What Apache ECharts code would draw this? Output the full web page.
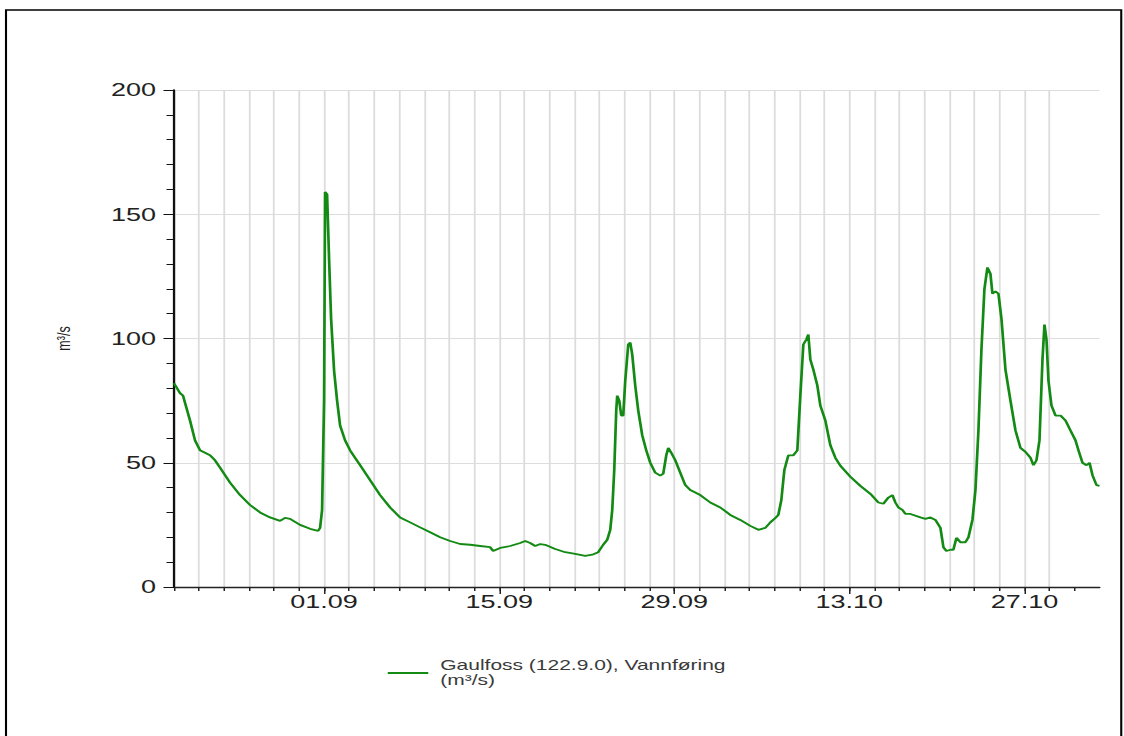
<!DOCTYPE html>
<html>
<head>
<meta charset="utf-8">
<script src="https://cdn.jsdelivr.net/npm/echarts@6/dist/echarts.min.js"></script>
<style>
  html, body { margin: 0; padding: 0; background: #fff; overflow: hidden; }
  #main { width: 749.333px; height: 736px; transform: scale(1.5, 1); transform-origin: 0 0; }
</style>
</head>
<body>
<div id="main"></div>
<script>
// ---- data (day offsets from 20.08, flow in m3/s) ----
const startDateUTC = Date.UTC(2023, 7, 20);
const dayOffset = [
  0, 0.48, 0.72, 1.28, 1.68, 2.08, 2.48, 2.88, 3.28, 3.68, 4.48, 5.28, 6.08, 6.88, 7.68, 8.48, 8.88, 9.28, 10.08, 10.88,
  11.52, 11.68, 11.84, 12.0, 12.08, 12.24, 12.4, 12.56, 12.8, 13.04, 13.28, 13.68, 14.08, 14.48, 14.88, 15.68, 16.48, 17.28, 18.08, 18.88,
  19.68, 20.48, 21.28, 22.08, 22.88, 23.68, 24.48, 25.28, 25.52, 26.08, 26.88, 27.68, 28.08, 28.48, 28.88, 29.28, 29.68, 30.48, 31.28, 32.08,
  32.88, 33.44, 33.92, 34.32, 34.64, 34.88, 35.04, 35.2, 35.36, 35.44, 35.6, 35.76, 35.92, 36.08, 36.32, 36.48, 36.64, 36.88, 37.12, 37.44,
  37.76, 38.08, 38.48, 38.88, 39.12, 39.36, 39.52, 39.76, 40.08, 40.48, 40.88, 41.28, 42.08, 42.88, 43.68, 44.48, 45.28, 46.08, 46.72, 47.28,
  47.68, 48.08, 48.32, 48.56, 48.8, 49.12, 49.52, 49.84, 50.08, 50.32, 50.56, 50.72, 50.88, 51.12, 51.44, 51.68, 52.08, 52.48, 52.88, 53.28,
  54.08, 54.88, 55.68, 56.32, 56.72, 57.12, 57.44, 57.68, 57.92, 58.24, 58.48, 58.88, 59.68, 60.08, 60.48, 60.88, 61.28, 61.52, 61.76, 62.08,
  62.32, 62.56, 62.88, 63.28, 63.52, 63.84, 64.08, 64.32, 64.56, 64.8, 65.04, 65.28, 65.44, 65.68, 65.92, 66.16, 66.48, 66.88, 67.28, 67.68,
  68.08, 68.48, 68.72, 68.96, 69.2, 69.44, 69.6, 69.76, 69.92, 70.16, 70.48, 70.88, 71.28, 71.68, 72.08, 72.32, 72.64, 72.96, 73.2, 73.44,
  73.76, 74
];
const flow = [
  82, 78, 77, 67, 59, 55, 54, 53, 51, 48, 42, 37, 33, 30, 28, 26.6, 27.8, 27.4, 25, 23.4,
  22.6, 23.8, 31, 75, 159, 158, 132, 108, 87, 75, 65, 59, 55, 52, 49, 43, 37, 32, 28, 26,
  24, 22, 20, 18.5, 17.3, 17, 16.5, 16, 14.5, 15.7, 16.5, 17.7, 18.5, 17.7, 16.5, 17.3, 17, 15.3, 14, 13.3,
  12.5, 13, 14, 17, 19, 23, 31, 47, 71, 77, 75, 69, 69, 83, 97.6, 98.4, 93.5, 81, 71, 61,
  55, 50, 46, 44.8, 45.6, 53, 56, 54, 51, 46, 41, 39, 37, 34, 32, 29, 27, 24.6, 23, 23.8,
  26, 27.8, 29, 35, 47, 53, 53, 55, 77, 97.6, 99.6, 101.6, 91.5, 87.5, 81, 73, 67, 57, 52, 48.8,
  44.4, 40.7, 37.5, 34, 33.5, 36, 37, 34, 32, 31, 29.4, 29.4, 28, 27.4, 28, 27, 23.8, 16, 14.5, 15,
  15, 19.8, 18, 18, 20, 27, 39, 63, 95.6, 120, 128.6, 126, 118, 119, 118, 108, 87.5, 75, 63, 56,
  54.4, 52, 49, 51, 59, 91.5, 105.6, 99.6, 83, 73, 69, 69, 67, 63, 59, 55, 50, 49, 50, 45,
  41, 40.7
];
const tickDays = [0, 2, 4, 6, 8, 10, 12, 14, 16, 18, 20, 22, 24, 26, 28, 30, 32, 34, 36, 38, 40, 42, 44, 46, 48, 50, 52, 54, 56, 58, 60, 62, 64, 66, 68, 70, 72];
const labelDays = [12, 26, 40, 54, 68]; // 01.09, 15.09, 29.09, 13.10, 27.10
const seriesName = 'Gaulfoss (122.9.0), Vannføring\n(m³/s)';
const yAxisName = 'm³/s';

function pad(n) { return (n < 10 ? '0' : '') + n; }
function dayLabel(v) {
  const d = new Date(startDateUTC + v * 86400000);
  return pad(d.getUTCDate()) + '.' + pad(d.getUTCMonth() + 1);
}

const points = dayOffset.map((d, i) => [d, flow[i]]);

const chart = echarts.init(document.getElementById('main'), null, { renderer: 'svg' });
const labelFont = { fontFamily: 'Liberation Sans, Arial, sans-serif', fontSize: 18, color: '#222' };

chart.setOption({
  animation: false,
  backgroundColor: '#fff',
  graphic: [{
    type: 'rect',
    shape: { x: 4, y: 10, width: 743.5, height: 760 },
    style: { fill: 'none', stroke: '#000', lineWidth: 1.4 },
    silent: true
  }],
  grid: { left: 116, right: 16, top: 90, bottom: 149 },
  legend: {
    left: 253.5,
    top: 653,
    itemWidth: 27,
    itemHeight: 2,
    itemGap: 8,
    icon: 'rect',
    textStyle: { fontFamily: 'Liberation Sans, Arial, sans-serif', fontSize: 14, color: '#3a3a3a', lineHeight: 15, padding: [0, 0, 0, 3] },
    data: [seriesName]
  },
  xAxis: [{
    type: 'value',
    min: 0,
    max: 74,
    interval: 2,
    axisLine: { show: true, lineStyle: { color: '#222', width: 1.4 } },
    axisTick: { show: true, length: 4, customValues: tickDays, lineStyle: { color: '#222', width: 1 } },
    axisLabel: { show: false },
    splitLine: { show: true, showMaxLine: false, lineStyle: { color: '#dcdcdc', width: 1.2 } }
  }, {
    type: 'value',
    min: 0,
    max: 74,
    position: 'bottom',
    axisLine: { show: false },
    axisTick: { show: true, length: 7, customValues: labelDays, lineStyle: { color: '#222', width: 1 } },
    axisLabel: Object.assign({ show: true, margin: 6, customValues: labelDays, formatter: dayLabel }, labelFont),
    splitLine: { show: false }
  }],
  yAxis: {
    type: 'value',
    min: 0,
    max: 200,
    interval: 50,
    name: yAxisName,
    nameLocation: 'middle',
    nameGap: 67,
    nameRotate: 90,
    nameTextStyle: { fontFamily: 'Liberation Sans, Arial, sans-serif', fontSize: 12.5, color: '#222' },
    axisLine: { show: true, lineStyle: { color: '#111', width: 1.5 } },
    axisTick: { show: true, length: 7, lineStyle: { color: '#111', width: 1 } },
    minorTick: { show: true, splitNumber: 5, length: 5, lineStyle: { color: '#111', width: 1 } },
    axisLabel: Object.assign({ margin: 12 }, labelFont),
    splitLine: { show: true, lineStyle: { color: '#dcdcdc', width: 1 } },
    minorSplitLine: { show: false }
  },
  series: [{
    name: seriesName,
    type: 'line',
    xAxisIndex: 0,
    data: points,
    showSymbol: false,
    symbol: 'none',
    lineStyle: { color: '#138a13', width: 1.8 },
    itemStyle: { color: '#138a13' }
  }]
});
</script>
</body>
</html>
